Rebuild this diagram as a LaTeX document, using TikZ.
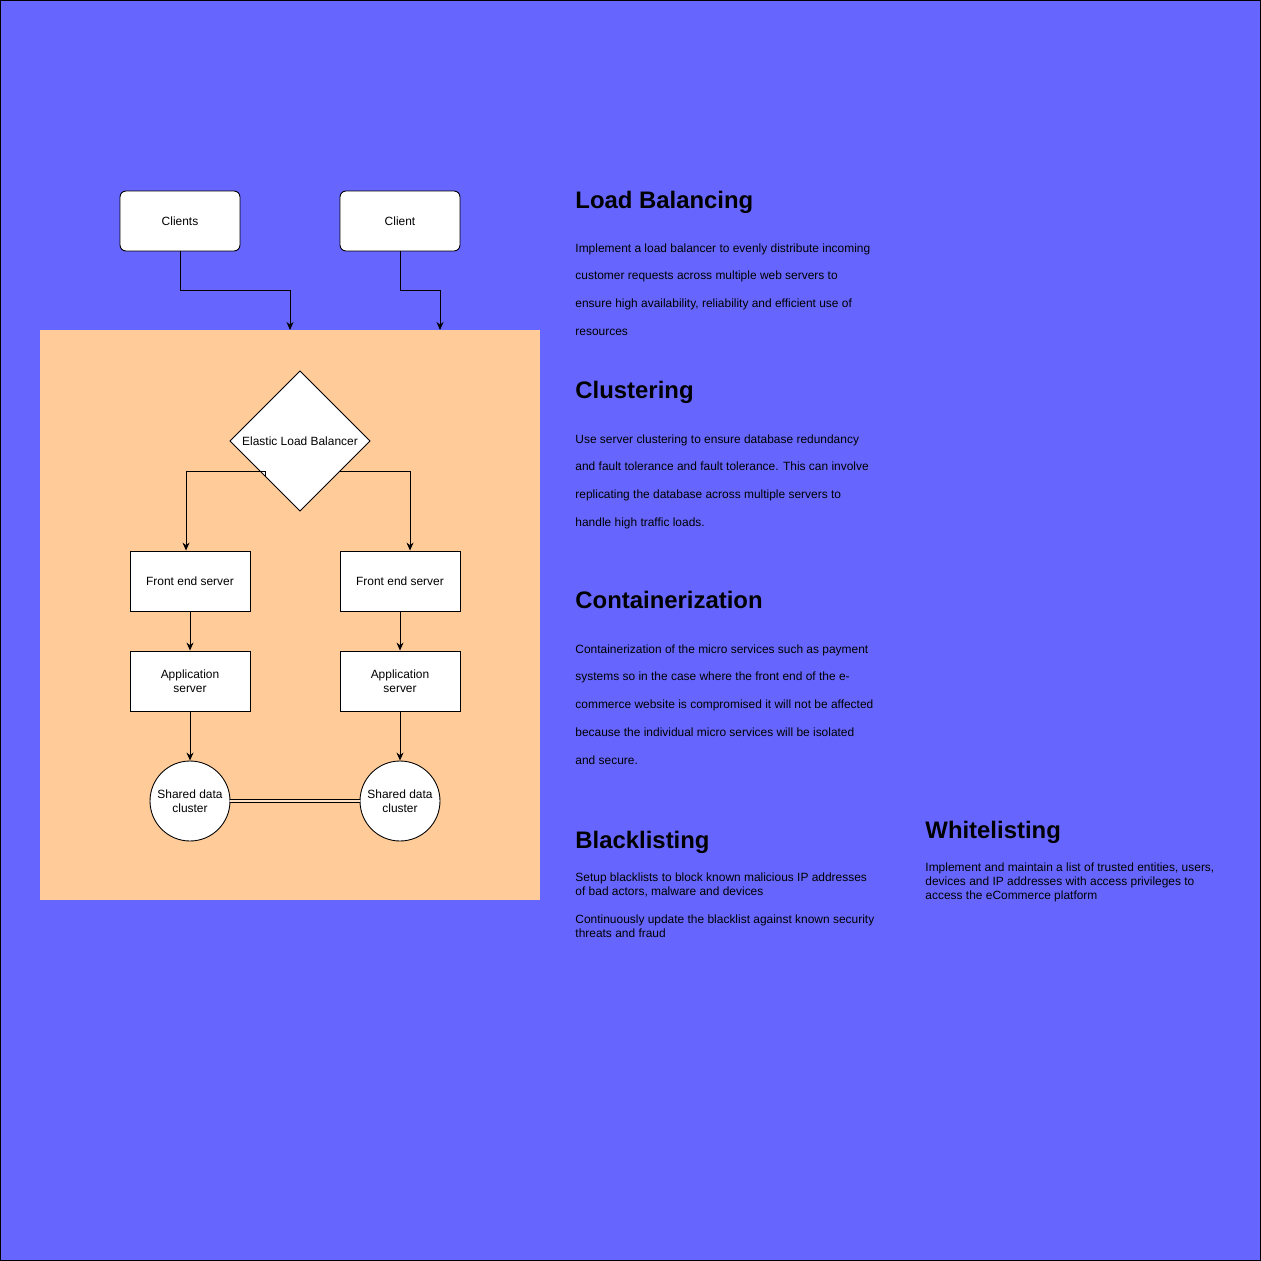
\documentclass[tikz,border=0pt]{standalone}
\usepackage{fontspec}
\setmainfont{Liberation Sans}
\usetikzlibrary{arrows.meta,positioning,shapes.geometric,calc}
\definecolor{bgblue}{HTML}{6666FF}
\definecolor{zoneorange}{HTML}{FFCC99}
\newcommand{\boxfont}{\fontsize{6.8}{7.94}\selectfont}
\newcommand{\bodyfont}{\fontsize{6.8}{15.87}\selectfont}
\newcommand{\tightfont}{\fontsize{6.8}{7.94}\selectfont}

\begin{document}
\begin{tikzpicture}[x=0.02cm, y=-0.02cm, line width=0.5pt,
    client/.style={draw, fill=white, rounded corners=1.2mm, minimum width=2.4cm, minimum height=1.2cm, font=\boxfont},
    server/.style={draw, fill=white, minimum width=2.4cm, minimum height=1.2cm, align=center, font=\boxfont},
    cluster/.style={draw, fill=white, circle, minimum size=1.6cm, inner sep=0pt, align=center, font=\boxfont},
    balancer/.style={draw, fill=white, diamond, minimum width=2.8cm, minimum height=2.8cm, inner sep=0pt, outer sep=0pt, font=\boxfont},
    flow/.style={-{Stealth[length=1.6mm,width=1.4mm]}},
    heading/.style={anchor=base west, inner sep=0pt, font=\fontsize{13.6}{16}\selectfont\bfseries},
    body/.style={anchor=north west, inner sep=0pt, align=left}
  ]
      \useasboundingbox (0,0) rectangle (1261,1261);
      \fill[bgblue] (0,0) rectangle (1261,1261);
      \draw (0.5,0.5) rectangle (1260.5,1260.5);

      % the zone with the servers
      \fill[zoneorange] (40,330) rectangle (540,900);
      \coordinate (in1) at (290,330);
      \coordinate (in2) at (440,330);

      \node[client] (clients) at (180,221) {Clients};
      \node[client] (client) at (400,221) {Client};

      \node[balancer] (elb) at (300,441) {Elastic Load Balancer};

      \node[server] (fe1) at (190,581) {Front end server};
      \node[server] (fe2) at (400,581) {Front end server};
      \node[server] (app1) at (190,681) {Application\\server};
      \node[server] (app2) at (400,681) {Application\\server};
      \node[cluster] (sdc1) at (190,801) {Shared data\\cluster};
      \node[cluster] (sdc2) at (400,801) {Shared data\\cluster};

      \draw[flow] (clients.south) |- ($(in1)+(0,-40)$) -- (in1);
      \draw[flow] (client.south) |- ($(in2)+(0,-40)$) -- (in2);

      \draw[flow] (elb.south west) -- ++(0,-5) -| ($(fe1.north)+(-4,0)$);
      \draw[flow] ($(elb.east)!0.43!(elb.south)$) -| ($(fe2.north)+(10,0)$);

      \draw[flow] (fe1) -- (app1);
      \draw[flow] (fe2) -- (app2);
      \draw[flow] (app1) -- (sdc1);
      \draw[flow] (app2) -- (sdc2);

      \draw[double=zoneorange!60!white, double distance=1.2pt, line width=0.45pt] (sdc1) -- (sdc2);

      % notes on the right
      \node[heading] (lbhead) at (575,208) {Load Balancing};
      \node[body, font=\bodyfont] (lbtext) at (575,243) {Implement a load balancer to evenly distribute incoming\\customer requests across multiple web servers to\\ensure high availability, reliability and efficient use of\\resources};

      \node[heading] (clhead) at (575,398) {Clustering};
      \node[body, font=\bodyfont] (cltext) at (575,434) {Use server clustering to ensure database redundancy\\and fault tolerance and fault tolerance. This can involve\\replicating the database across multiple servers to\\handle high traffic loads.};

      \node[heading] (cohead) at (575,608) {Containerization};
      \node[body, font=\bodyfont] (cotext) at (575,644) {Containerization of the micro services such as payment\\systems so in the case where the front end of the e-\\commerce website is compromised it will not be affected\\because the individual micro services will be isolated\\and secure.};

      \node[heading] (blhead) at (575,848) {Blacklisting};
      \node[body, font=\tightfont] (bltext) at (575,872) {Setup blacklists to block known malicious IP addresses\\of bad actors, malware and devices};
      \node[body, font=\tightfont] (bltext2) at (575,914) {Continuously update the blacklist against known security\\threats and fraud};

      \node[heading] (whhead) at (925,838) {Whitelisting};
      \node[body, font=\tightfont] (whtext) at (925,862) {Implement and maintain a list of trusted entities, users,\\devices and IP addresses with access privileges to\\access the eCommerce platform};
\end{tikzpicture}
\end{document}
